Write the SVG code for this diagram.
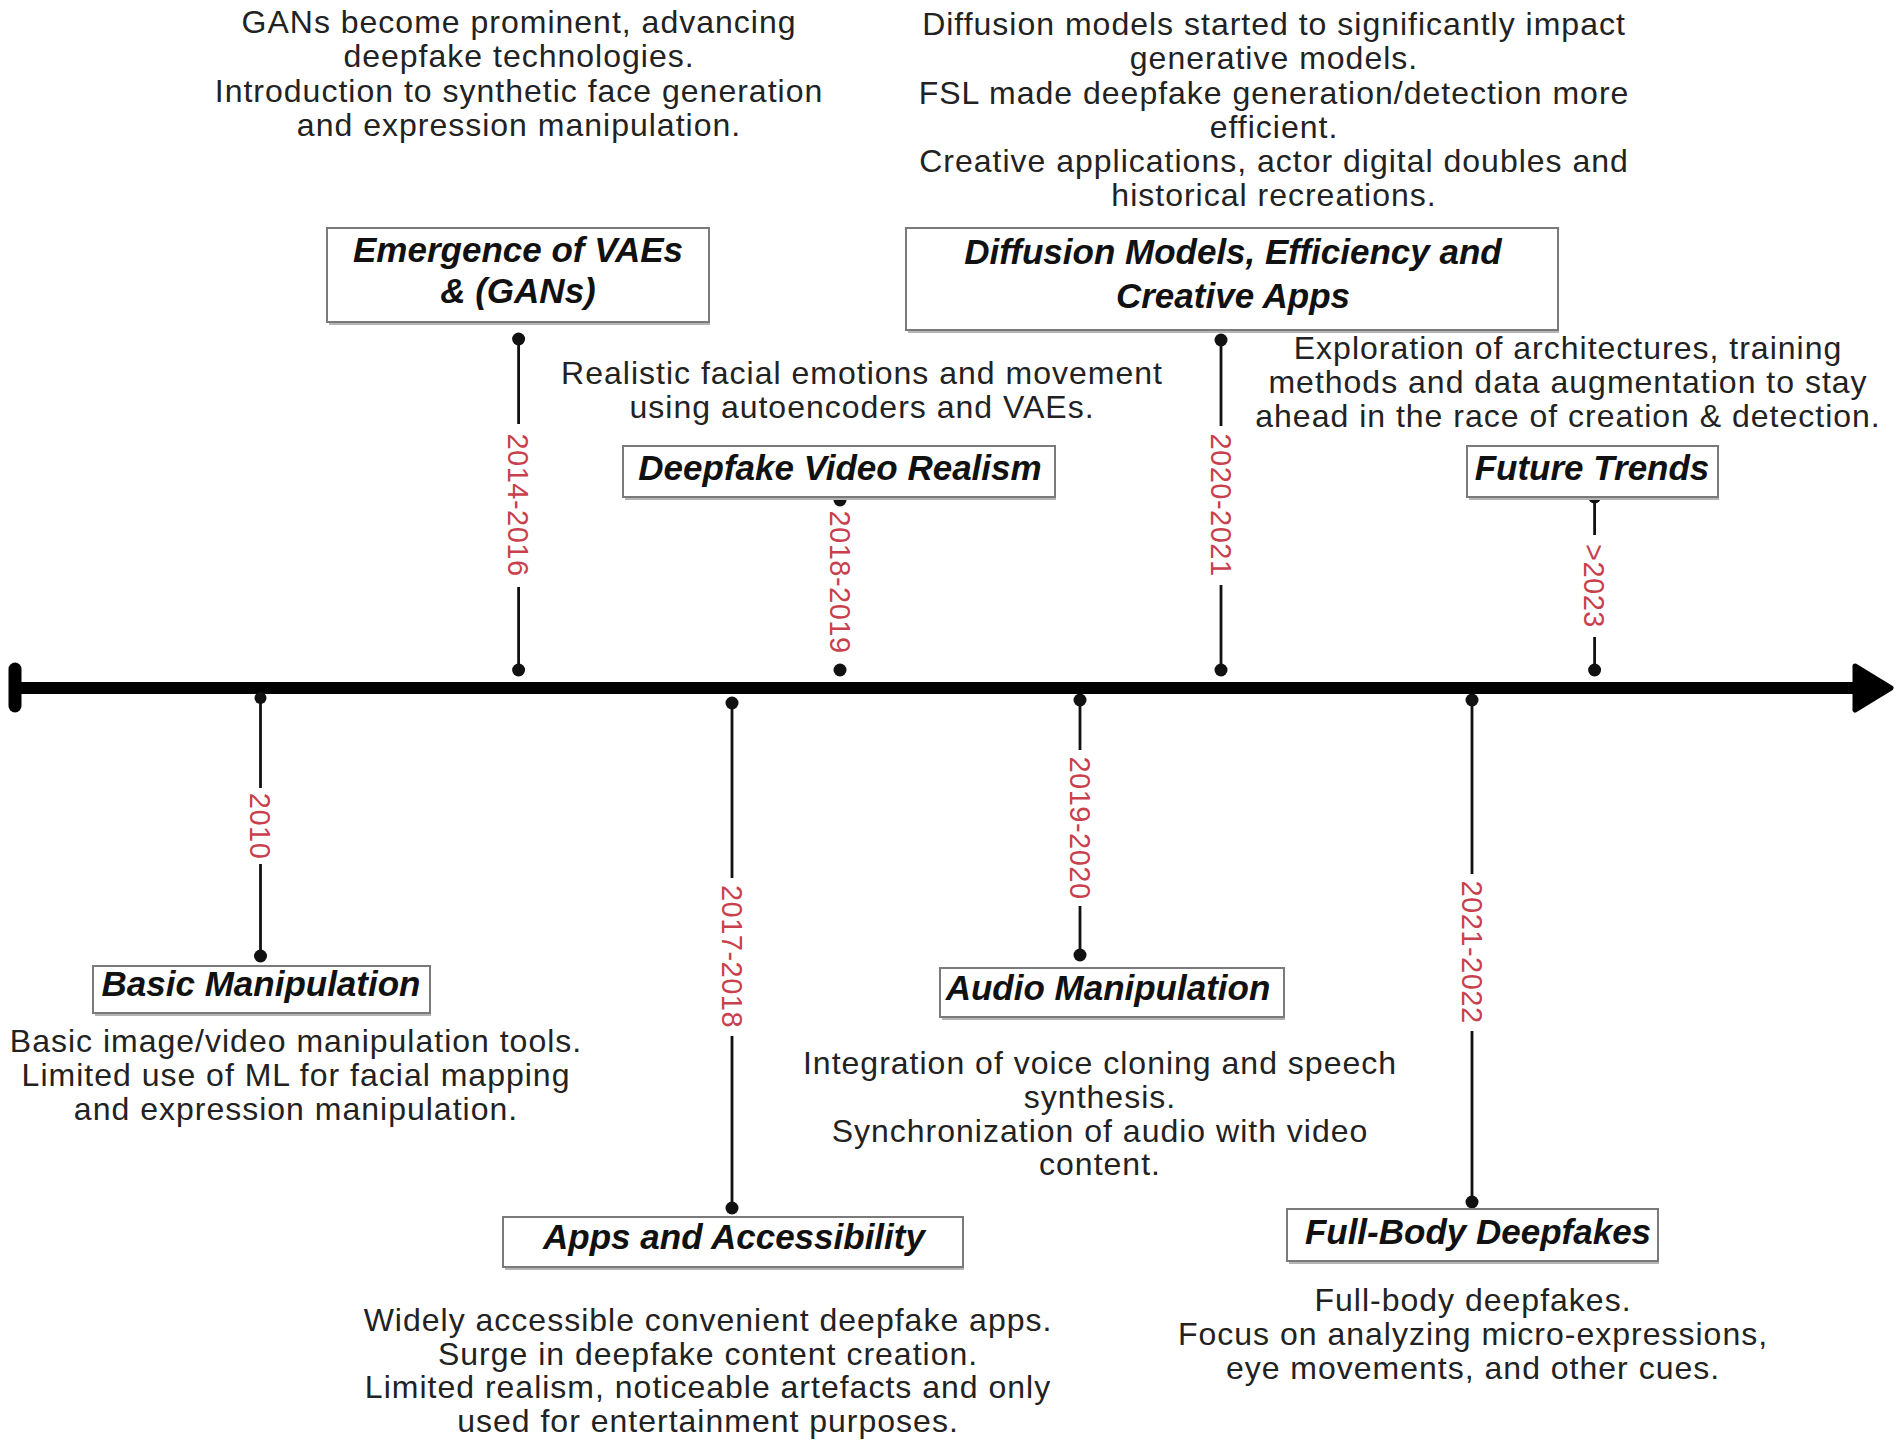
<svg xmlns="http://www.w3.org/2000/svg" width="1900" height="1449" viewBox="0 0 1900 1449">
<style>
.box{fill:#fff;stroke:#7a7a7a;stroke-width:2}
.shd{fill:none;stroke:#b4b4b4;stroke-width:2}
.title{font-family:"Liberation Sans",Arial,sans-serif;font-weight:bold;font-style:italic;font-size:35px;fill:#111;text-anchor:middle}
.desc{font-family:"Liberation Sans",Arial,sans-serif;font-size:32px;letter-spacing:1px;fill:#222;text-anchor:middle}
.yr{font-family:"Liberation Sans",Arial,sans-serif;font-size:29px;fill:#c8404c;letter-spacing:0.5px;text-anchor:middle}
.tick{stroke:#111;stroke-width:2.8;fill:none}
.dot{fill:#111}
</style>
<rect width="1900" height="1449" fill="#fff"/>
<g id="connectors">
  <line x1="15" y1="688" x2="1858" y2="688" stroke="#000" stroke-width="12"/>
  <line x1="15" y1="669" x2="15" y2="706" stroke="#000" stroke-width="13" stroke-linecap="round"/>
  <path d="M1855,666 L1891,688 L1855,710 Z" fill="#000" stroke="#000" stroke-width="5" stroke-linejoin="round"/>
  <!-- 2010 -->
  <line class="tick" x1="260.5" y1="698" x2="260.5" y2="788"/>
  <line class="tick" x1="260.5" y1="864" x2="260.5" y2="956"/>
  <circle class="dot" cx="260.5" cy="698" r="6"/><circle class="dot" cx="260.5" cy="956" r="6.5"/>
  <text class="yr" transform="translate(260.5,826) rotate(90)" y="10.4">2010</text>
  <!-- 2014-2016 -->
  <line class="tick" x1="518.6" y1="339" x2="518.6" y2="424"/>
  <line class="tick" x1="518.6" y1="587" x2="518.6" y2="670"/>
  <circle class="dot" cx="518.6" cy="339" r="6.5"/><circle class="dot" cx="518.6" cy="670" r="6.5"/>
  <text class="yr" transform="translate(518.6,505) rotate(90)" y="10.4">2014-2016</text>
  <!-- 2017-2018 -->
  <line class="tick" x1="732" y1="703" x2="732" y2="878"/>
  <line class="tick" x1="732" y1="1036" x2="732" y2="1208"/>
  <circle class="dot" cx="732" cy="703" r="6.5"/><circle class="dot" cx="732" cy="1208" r="6.5"/>
  <text class="yr" transform="translate(732,956.5) rotate(90)" y="10.4">2017-2018</text>
  <!-- 2018-2019 -->
  <circle class="dot" cx="840" cy="500" r="6.5"/><circle class="dot" cx="840" cy="670" r="6.5"/>
  <text class="yr" transform="translate(840,582) rotate(90)" y="10.4">2018-2019</text>
  <!-- 2019-2020 -->
  <line class="tick" x1="1080" y1="700" x2="1080" y2="750"/>
  <line class="tick" x1="1080" y1="906" x2="1080" y2="955"/>
  <circle class="dot" cx="1080" cy="700" r="6.5"/><circle class="dot" cx="1080" cy="955" r="6.5"/>
  <text class="yr" transform="translate(1080,828) rotate(90)" y="10.4">2019-2020</text>
  <!-- 2020-2021 -->
  <line class="tick" x1="1221" y1="340" x2="1221" y2="426"/>
  <line class="tick" x1="1221" y1="585" x2="1221" y2="670"/>
  <circle class="dot" cx="1221" cy="340" r="6.5"/><circle class="dot" cx="1221" cy="670" r="6.5"/>
  <text class="yr" transform="translate(1221,505) rotate(90)" y="10.4">2020-2021</text>
  <!-- 2021-2022 -->
  <line class="tick" x1="1472" y1="700" x2="1472" y2="874"/>
  <line class="tick" x1="1472" y1="1031" x2="1472" y2="1202"/>
  <circle class="dot" cx="1472" cy="700" r="6.5"/><circle class="dot" cx="1472" cy="1202" r="6.5"/>
  <text class="yr" transform="translate(1472,952) rotate(90)" y="10.4">2021-2022</text>
  <!-- >2023 -->
  <line class="tick" x1="1594.6" y1="497" x2="1594.6" y2="535"/>
  <line class="tick" x1="1594.6" y1="637" x2="1594.6" y2="670"/>
  <circle class="dot" cx="1594.6" cy="497" r="6.5"/><circle class="dot" cx="1594.6" cy="670" r="6.5"/>
  <text class="yr" transform="translate(1594.6,586) rotate(90)" y="10.4">&gt;2023</text>
</g>
<g id="node-vaes-gans">
  <text class="desc" x="519" y="33">GANs become prominent, advancing</text>
  <text class="desc" x="519" y="67">deepfake technologies.</text>
  <text class="desc" x="519" y="102">Introduction to synthetic face generation</text>
  <text class="desc" x="519" y="136">and expression manipulation.</text>
  <line class="shd" x1="329" y1="324" x2="710" y2="324"/>
  <rect class="box" x="327" y="228" width="382" height="94"/>
  <text class="title" x="518" y="262">Emergence of VAEs</text>
  <text class="title" x="518" y="303">&amp; (GANs)</text>
</g>
<g id="node-diffusion">
  <text class="desc" x="1274" y="35">Diffusion models started to significantly impact</text>
  <text class="desc" x="1274" y="69">generative models.</text>
  <text class="desc" x="1274" y="104">FSL made deepfake generation/detection more</text>
  <text class="desc" x="1274" y="138">efficient.</text>
  <text class="desc" x="1274" y="172">Creative applications, actor digital doubles and</text>
  <text class="desc" x="1274" y="206">historical recreations.</text>
  <line class="shd" x1="908" y1="332" x2="1559" y2="332"/>
  <rect class="box" x="906" y="228" width="652" height="102"/>
  <text class="title" x="1233" y="264">Diffusion Models, Efficiency and</text>
  <text class="title" x="1233" y="308">Creative Apps</text>
</g>
<g id="node-video-realism">
  <text class="desc" x="862" y="384">Realistic facial emotions and movement</text>
  <text class="desc" x="862" y="418">using autoencoders and VAEs.</text>
  <line class="shd" x1="625" y1="499" x2="1056" y2="499"/>
  <rect class="box" x="623" y="446" width="432" height="51"/>
  <text class="title" x="840" y="480">Deepfake Video Realism</text>
</g>
<g id="node-future">
  <text class="desc" x="1568" y="359">Exploration of architectures, training</text>
  <text class="desc" x="1568" y="393">methods and data augmentation to stay</text>
  <text class="desc" x="1568" y="427">ahead in the race of creation &amp; detection.</text>
  <line class="shd" x1="1469" y1="499" x2="1719" y2="499"/>
  <rect class="box" x="1467" y="446" width="251" height="51"/>
  <text class="title" x="1592" y="480">Future Trends</text>
</g>
<g id="node-basic">
  <line class="shd" x1="95" y1="1015" x2="431" y2="1015"/>
  <rect class="box" x="93" y="966" width="337" height="47"/>
  <text class="title" x="261" y="996">Basic Manipulation</text>
  <text class="desc" x="296" y="1052">Basic image/video manipulation tools.</text>
  <text class="desc" x="296" y="1086">Limited use of ML for facial mapping</text>
  <text class="desc" x="296" y="1120">and expression manipulation.</text>
</g>
<g id="node-apps">
  <line class="shd" x1="505" y1="1269" x2="964" y2="1269"/>
  <rect class="box" x="503" y="1217" width="460" height="50"/>
  <text class="title" x="734" y="1249">Apps and Accessibility</text>
  <text class="desc" x="708" y="1331">Widely accessible convenient deepfake apps.</text>
  <text class="desc" x="708" y="1365">Surge in deepfake content creation.</text>
  <text class="desc" x="708" y="1398">Limited realism, noticeable artefacts and only</text>
  <text class="desc" x="708" y="1432">used for entertainment purposes.</text>
</g>
<g id="node-audio">
  <line class="shd" x1="942" y1="1019" x2="1285" y2="1019"/>
  <rect class="box" x="940" y="968" width="344" height="49"/>
  <text class="title" x="1108" y="1000">Audio Manipulation</text>
  <text class="desc" x="1100" y="1074">Integration of voice cloning and speech</text>
  <text class="desc" x="1100" y="1108">synthesis.</text>
  <text class="desc" x="1100" y="1142">Synchronization of audio with video</text>
  <text class="desc" x="1100" y="1175">content.</text>
</g>
<g id="node-fullbody">
  <line class="shd" x1="1289" y1="1263" x2="1659" y2="1263"/>
  <rect class="box" x="1287" y="1209" width="371" height="52"/>
  <text class="title" x="1478" y="1244">Full-Body Deepfakes</text>
  <text class="desc" x="1473" y="1311">Full-body deepfakes.</text>
  <text class="desc" x="1473" y="1345">Focus on analyzing micro-expressions,</text>
  <text class="desc" x="1473" y="1379">eye movements, and other cues.</text>
</g>
</svg>
